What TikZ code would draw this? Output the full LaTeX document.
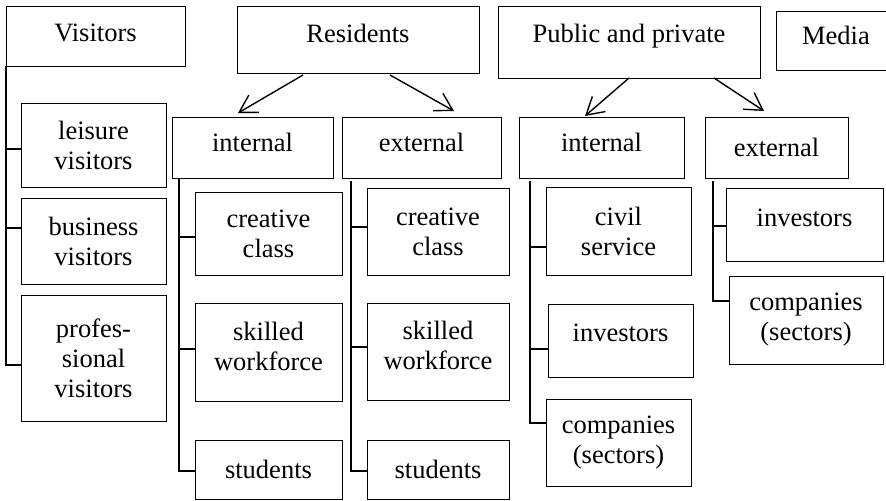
\documentclass[tikz,border=0pt]{standalone}
\usepackage{fontspec}
\setmainfont{Liberation Serif}
\usetikzlibrary{arrows.meta}
\tikzset{
  box/.style={draw, line width=0.5pt, align=center, inner sep=0pt, font=\fontsize{13.25}{15}\selectfont},
  trunk/.style={line width=1pt},
  arr/.style={line width=0.7pt, -{Straight Barb[length=8.5pt,width=10pt,line width=0.7pt]}}
}
\newcommand\bx[7][]{\node[box,#1, minimum width={(#4-#2)*0.5pt}, minimum height={(#5-#3)*0.5pt}] (#6) at ({(#2+#4)/2},{(#3+#5)/2}) {#7};}
\begin{document}
\begin{tikzpicture}[x=0.5pt,y=-0.5pt]
\clip (0,0) rectangle (886,500);
% top level
\bx[text depth=3pt]{6}{6}{185}{66}{vis}{Visitors}
\bx[text depth=6pt]{237}{6}{479}{73}{res}{Residents}
\bx[text depth=9pt]{498}{6}{760}{78}{pp}{Public and private}
\bx[text depth=5pt]{776}{11}{896}{70}{med}{Media}
% second level
\bx[text depth=5pt]{172}{117}{333}{178}{ri}{internal}
\bx[text depth=5pt]{342}{117}{501}{178}{re}{external}
\bx[text depth=5pt]{519}{117}{684}{178}{pi}{internal}
\bx{705}{117}{848}{178}{pe}{external}
% visitors children
\bx{21}{103}{166}{187}{v1}{leisure\\visitors}
\bx{21}{198}{166}{284}{v2}{business\\visitors}
\bx{21}{295}{166}{421}{v3}{profes-\\sional\\visitors}
% residents internal children
\bx{195}{192}{342}{275}{ri1}{creative\\class}
\bx[text depth=6pt]{195}{303}{342}{401}{ri2}{skilled\\workforce}
\bx{195}{440}{342}{499}{ri3}{students}
% residents external children
\bx{367}{188}{509}{275}{re1}{creative\\class}
\bx[text depth=6pt]{367}{303}{509}{400}{re2}{skilled\\workforce}
\bx{367}{440}{509}{499}{re3}{students}
% public internal children
\bx{546}{187}{691}{275}{pi1}{civil\\service}
\bx[text depth=8pt]{548}{304}{693}{377}{pi2}{investors}
\bx{546}{399}{691}{486}{pi3}{companies\\(sectors)}
% public external children
\bx[text depth=7pt]{726}{188}{883}{261}{pe1}{investors}
\bx{729}{276}{883}{364}{pe2}{companies\\(sectors)}
% arrows
\coordinate (ra1) at (303,75); \coordinate (ra2) at (238,113);
\coordinate (rb1) at (390,75); \coordinate (rb2) at (454,111);
\coordinate (pa1) at (629,78); \coordinate (pa2) at (585,116);
\coordinate (pb1) at (714,78); \coordinate (pb2) at (764,111);
\draw[arr] (ra1) -- (ra2);
\draw[arr] (rb1) -- (rb2);
\draw[arr] (pa1) -- (pa2);
\draw[arr] (pb1) -- (pb2);
% trunks
\coordinate (vt) at (6,66);
\draw[trunk] (vt) |- ([yshift=-2pt]v1.west);
\draw[trunk] (vt) |- ([yshift=6.5pt]v2.west);
\draw[trunk] (vt) |- ([yshift=-3.5pt]v3.west);
\coordinate (rit) at (179,178);
\draw[trunk] (rit) |- ([yshift=-1.75pt]ri1.west);
\draw[trunk] (rit) |- ([yshift=1.5pt]ri2.west);
\draw[trunk] (rit) |- ([yshift=-0.75pt]ri3.west);
\coordinate (ret) at (351,181);
\draw[trunk] (ret) |- ([yshift=2.25pt]re1.west);
\draw[trunk] (ret) |- ([yshift=2.25pt]re2.west);
\draw[trunk] (ret) |- ([yshift=-0.75pt]re3.west);
\coordinate (pit) at (530,181);
\draw[trunk] (pit) |- ([yshift=-8pt]pi1.west);
\draw[trunk] (pit) |- ([yshift=-4.25pt]pi2.west);
\draw[trunk] (pit) |- ([yshift=9.75pt]pi3.west);
\coordinate (pet) at (713,181);
\draw[trunk] (pet) |- ([yshift=-0.75pt]pe1.west);
\draw[trunk] (pet) |- ([yshift=9.5pt]pe2.west);
\end{tikzpicture}
\end{document}
